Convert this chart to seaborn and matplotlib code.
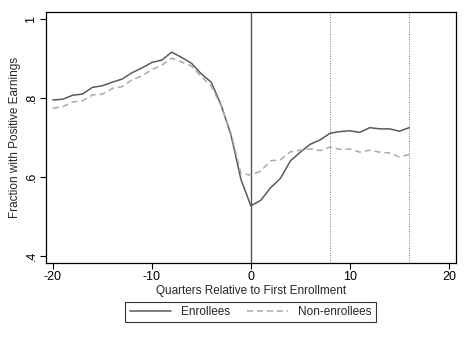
import seaborn as sns
import matplotlib.pyplot as plt
import pandas as pd

quarters = list(range(-20, 17))
enrollees = [0.795, 0.797, 0.807, 0.810, 0.827, 0.831, 0.840, 0.848, 0.864, 0.876,
             0.890, 0.896, 0.916, 0.903, 0.888, 0.861, 0.840, 0.782, 0.706, 0.594,
             0.527, 0.541, 0.573, 0.597, 0.641, 0.663, 0.683, 0.694, 0.711, 0.715,
             0.717, 0.713, 0.725, 0.722, 0.722, 0.716, 0.725]
non_enrollees = [0.774, 0.778, 0.790, 0.793, 0.808, 0.810, 0.824, 0.829, 0.846, 0.856,
                 0.872, 0.883, 0.901, 0.891, 0.881, 0.854, 0.830, 0.780, 0.711, 0.609,
                 0.605, 0.615, 0.641, 0.644, 0.664, 0.668, 0.671, 0.667, 0.676, 0.670,
                 0.671, 0.663, 0.668, 0.663, 0.661, 0.651, 0.657]
groups = ["Enrollees", "Non-enrollees"]
x_ticks = [-20, -10, 0, 10, 20]
y_ticks = [0.4, 0.6, 0.8, 1.0]
y_labels = [".4", ".6", ".8", "1"]

df = pd.DataFrame({
    "quarter": quarters * 2,
    "value": enrollees + non_enrollees,
    "group": [groups[0]] * len(quarters) + [groups[1]] * len(quarters),
})

sns.set_style("white")
plt.rcParams["font.family"] = ["Liberation Sans", "DejaVu Sans"]

fig = plt.figure(figsize=(4.68, 3.40), dpi=100)
ax = fig.add_axes([0.098, 0.226, 0.876, 0.739])

ax.axvline(0, color="#555555", lw=1.0, zorder=1)
ax.axvline(8, color="#777777", lw=0.7, ls=(0, (1, 1.5)), zorder=1)
ax.axvline(16, color="#777777", lw=0.7, ls=(0, (1, 1.5)), zorder=1)

sns.lineplot(data=df, x="quarter", y="value", hue="group", style="group",
             palette={"Enrollees": "#5a5a5a", "Non-enrollees": "#ababab"},
             dashes={"Enrollees": "", "Non-enrollees": (4, 2.5)},
             linewidth=1.1, ax=ax)

ax.set_xlim(-20.7, 20.7)
ax.set_ylim(0.382, 1.018)
ax.set_xticks(x_ticks)
ax.set_xticklabels([str(t) for t in x_ticks])
ax.set_yticks(y_ticks)
ax.set_yticklabels(y_labels, rotation=90, va="center")
ax.tick_params(axis="both", direction="out", length=4, width=0.8,
               labelsize=9, colors="black", pad=2)
ax.tick_params(left=True, bottom=True)
for s in ax.spines.values():
    s.set_color("black")
    s.set_linewidth(0.9)

ax.set_xlabel("Quarters Relative to First Enrollment", fontsize=8.5, labelpad=1)
ax.set_ylabel("Fraction with Positive Earnings", fontsize=8.5, labelpad=3)

leg = ax.legend(loc="upper center", bbox_to_anchor=(0.499, -0.155), ncol=2,
                frameon=True, fancybox=False, fontsize=8.5, handlelength=3.5,
                handletextpad=0.85, columnspacing=1.4, borderpad=0.35,
                borderaxespad=0)
leg.get_frame().set_edgecolor("black")
leg.get_frame().set_linewidth(0.8)

fig.savefig("out.png", dpi=100, facecolor="white")
